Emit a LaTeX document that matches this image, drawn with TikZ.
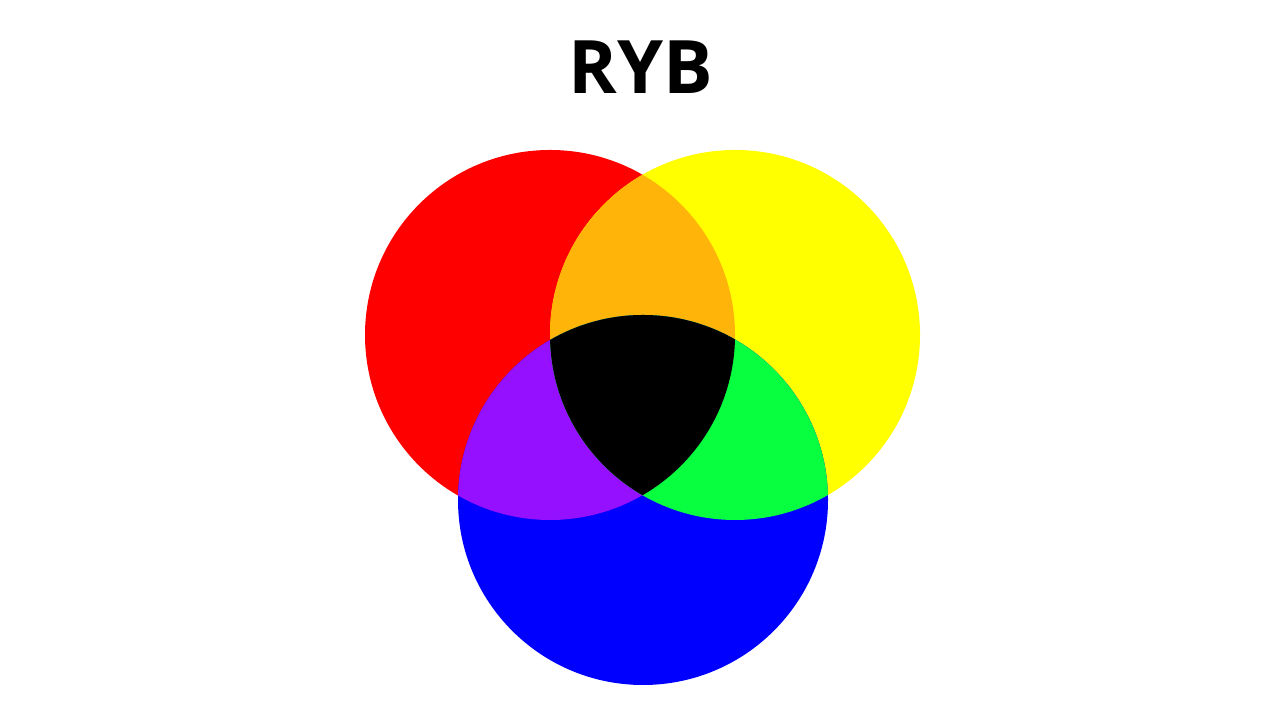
\documentclass[tikz,border=0pt]{standalone}
\usepackage{fontspec}
\setmainfont{Open Sans}
\definecolor{rybred}{HTML}{FF0000}
\definecolor{rybyellow}{HTML}{FFFF00}
\definecolor{rybblue}{HTML}{0000FF}
\definecolor{ryborange}{HTML}{FFB40A}
\definecolor{rybpurple}{HTML}{9410FF}
\definecolor{rybgreen}{HTML}{08FF40}
\begin{document}
\begin{tikzpicture} [title_style/.style={font=\fontsize{21}{25}\selectfont\bfseries, text=black},
                disc/.style={radius=1.85}]
                \tikzset{mix fill/.style={fill=#1}}
                \useasboundingbox (0,0) rectangle (12.8,7.2);
                \coordinate (r) at (5.50,3.85);
                \coordinate (y) at (7.35,3.85);
                \coordinate (b) at (6.43,2.20);
                \node [title_style] (title) at (6.41,6.53) {RYB};
                % primaries
                \fill [rybred] (r) circle [disc];
                \fill [rybyellow] (y) circle [disc];
                \fill [rybblue] (b) circle [disc];
                % two-way mixes
                \begin{scope}
                \clip (r) circle [disc];
                \fill [mix fill=ryborange] (y) circle [disc];
                \fill [mix fill=rybpurple] (b) circle [disc];
                \end{scope}
                \begin{scope}
                \clip (y) circle [disc];
                \fill [mix fill=rybgreen] (b) circle [disc];
                \end{scope}
                % all three
                \begin{scope}
                \clip (r) circle [disc];
                \clip (y) circle [disc];
                \fill [mix fill=black] (b) circle [disc];
                \end{scope}
            \end{tikzpicture}
\end{document}
